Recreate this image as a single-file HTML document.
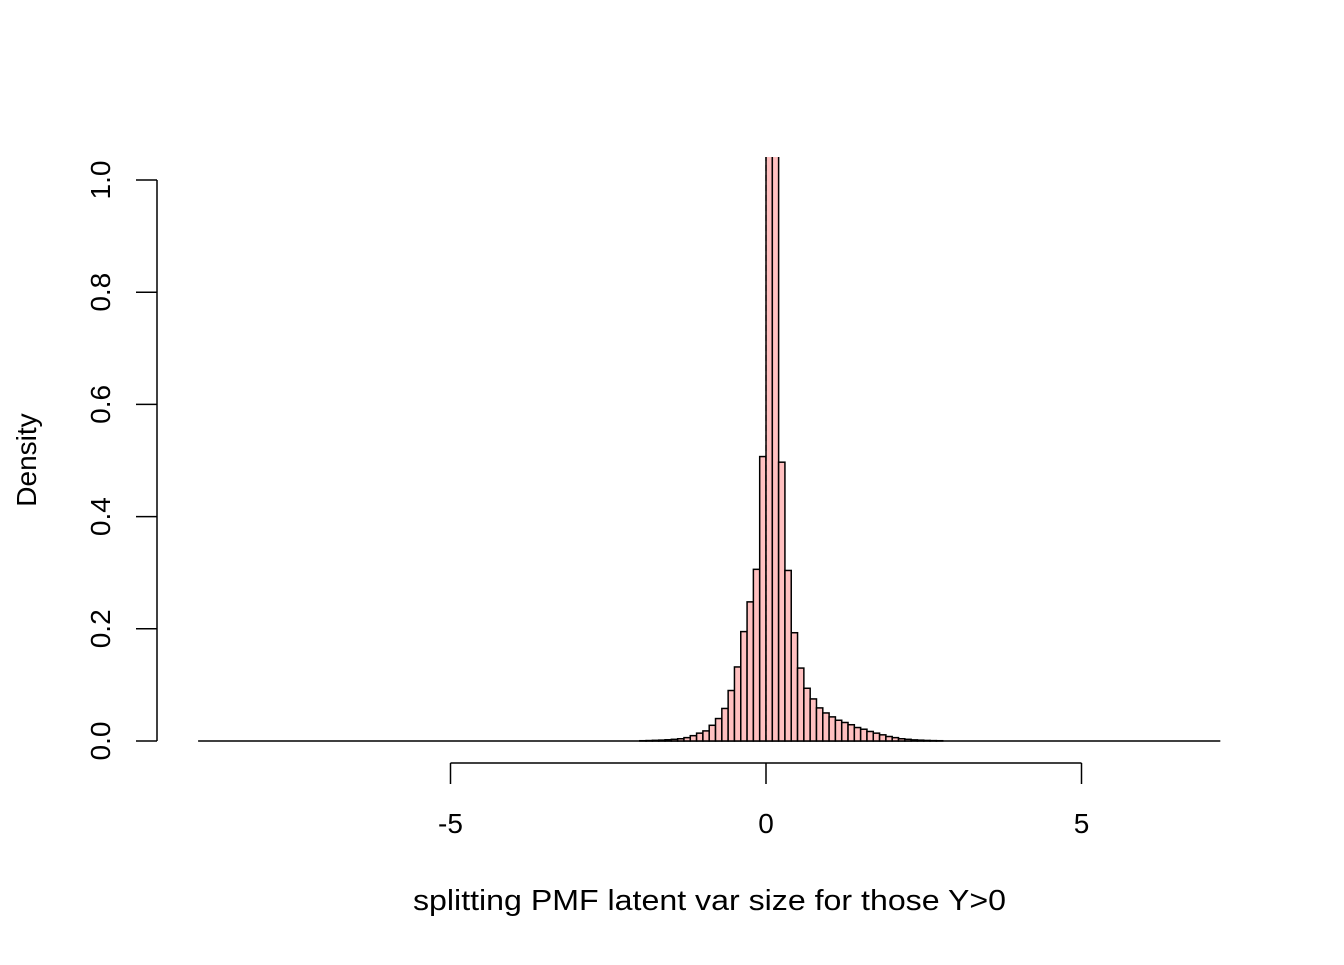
<!DOCTYPE html>
<html><head><meta charset="utf-8"><style>
body{margin:0;background:#fff}
svg text{font-family:"Liberation Sans",Arial,sans-serif;fill:#000}
</style></head><body>
<svg id="chart" width="1344" height="960" xmlns="http://www.w3.org/2000/svg">
<defs><clipPath id="plotclip"><rect x="0" y="157" width="1344" height="700"/></clipPath></defs>
<g id="bars" clip-path="url(#plotclip)"></g>
<g id="axes"></g>
<text x="413" y="910" font-size="29" textLength="593" lengthAdjust="spacingAndGlyphs">splitting PMF latent var size for those Y&gt;0</text>
<text transform="translate(36,460) rotate(-90)" font-size="28" text-anchor="middle">Density</text>
</svg>
<script>
const binWidth = 0.1;
const firstBinStart = -2.0;
const densities = [0.0005,0.0008,0.0012,0.0016,0.0022,0.003,0.004,0.006,0.0095,0.014,0.018,0.028,0.040,0.058,0.090,0.132,0.195,0.248,0.306,0.507,2.6,2.4,0.497,0.304,0.193,0.130,0.094,0.075,0.059,0.050,0.043,0.037,0.033,0.029,0.024,0.021,0.017,0.014,0.011,0.008,0.006,0.004,0.003,0.002,0.0015,0.001,0.0007,0.0005];
const rangeMin = -9.0, rangeMax = 7.2;
const xTicks = [-5, 0, 5];
const yTicks = [0, 0.2, 0.4, 0.6, 0.8, 1.0];
const yTickLabels = ["0.0","0.2","0.4","0.6","0.8","1.0"];

const NS = "http://www.w3.org/2000/svg";
const X = v => 766 + v * 63.1;
const Y = v => 741 - v * 561;
function mk(tag, attrs, parent){const e=document.createElementNS(NS,tag);for(const k in attrs)e.setAttribute(k,attrs[k]);parent.appendChild(e);return e;}
const bars = document.getElementById('bars');
const axes = document.getElementById('axes');

const base = mk('line',{x1:X(rangeMin),x2:X(rangeMax),y1:Y(0),y2:Y(0),stroke:'#000','stroke-width':1.5},bars);


densities.forEach((d,i)=>{
  const x0 = X(firstBinStart + i*binWidth), x1 = X(firstBinStart + (i+1)*binWidth);
  const r = mk('rect',{x:x0,y:Y(d),width:x1-x0,height:Y(0)-Y(d),fill:'#FFC0C0',stroke:'#000','stroke-width':1.5},bars);
  
  
});
const vl = mk('line',{x1:X(0),x2:X(0),y1:Y(0),y2:157,stroke:'#000','stroke-width':1.2,'stroke-dasharray':'6,4'},bars);



mk('line',{x1:X(xTicks[0]),x2:X(xTicks[xTicks.length-1]),y1:763,y2:763,stroke:'#000','stroke-width':1.5},axes);
xTicks.forEach(t=>{
  mk('line',{x1:X(t),x2:X(t),y1:763,y2:784,stroke:'#000','stroke-width':1.5},axes);
  const tx = mk('text',{x:X(t),y:833,'font-size':28,'text-anchor':'middle'},axes);
  tx.textContent = String(t);
  
  
});
mk('line',{x1:157,x2:157,y1:Y(yTicks[0]),y2:Y(yTicks[yTicks.length-1]),stroke:'#000','stroke-width':1.5},axes);
yTicks.forEach((t,i)=>{
  mk('line',{x1:136,x2:157,y1:Y(t),y2:Y(t),stroke:'#000','stroke-width':1.5},axes);
  const tx = mk('text',{transform:`translate(110,${Y(t)}) rotate(-90)`,'font-size':28,'text-anchor':'middle'},axes);
  tx.textContent = yTickLabels[i];
  
  
});
</script>
</body></html>
